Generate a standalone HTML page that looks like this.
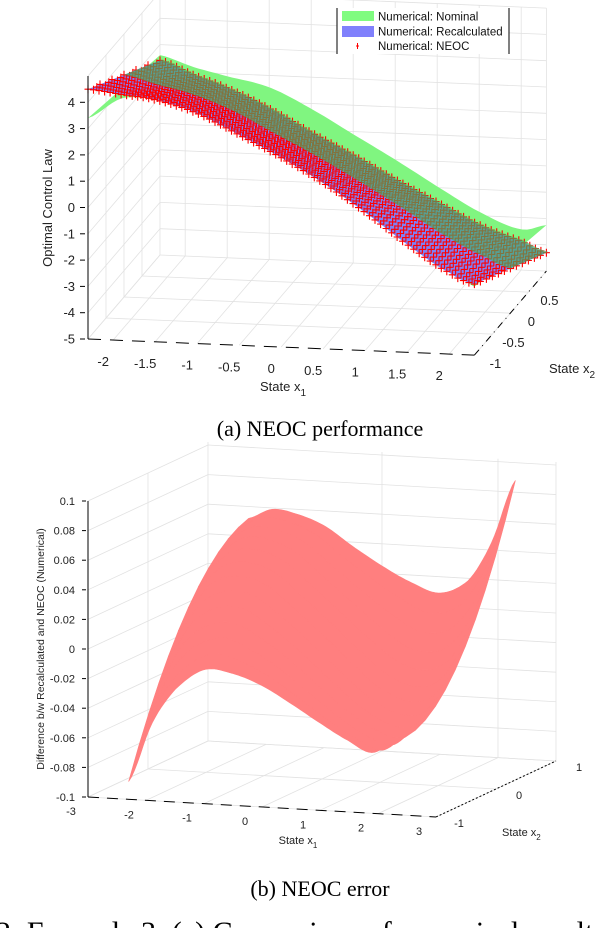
<!DOCTYPE html>
<html><head><meta charset="utf-8">
<style>
html,body{margin:0;padding:0;background:#fff;}
svg{display:block;font-family:"Liberation Sans",sans-serif;}
.cap{font-family:"Liberation Serif",serif;}
</style></head>
<body>
<svg id="fig" width="610" height="928" viewBox="0 0 610 928" xmlns="http://www.w3.org/2000/svg">
  <g id="chartA"></g>
  <g id="chartB"></g>
  <text class="cap" x="320" y="436" font-size="22" text-anchor="middle">(a) NEOC performance</text>
  <text class="cap" x="320" y="896" font-size="22" text-anchor="middle">(b) NEOC error</text>
  <text class="cap" x="-4" y="942" font-size="30">2: Example 3: (a) Comparison of numerical results</text>
</svg>
<script>
// ---------- Chart A data ----------
const aX1 = [-2.3,-1.9,-1.5,-1.0,-0.5,0,0.5,1.0,1.5,2.0,2.3];
const recalcFront = [4.5,4.35,4.2,3.75,3.0,2.2,1.3,0.25,-0.9,-1.9,-2.3];
const recalcBack  = [2.4,1.9,1.45,0.75,-0.1,-0.9,-1.75,-2.55,-3.35,-3.9,-4.3];
const nominalFront = [3.4,4.2,4.2,3.9,3.2,2.4,1.6,0.6,-0.4,-1.6,-2.4];
const nominalBack  = [2.6,2.2,1.9,1.55,0.8,-0.1,-1.0,-1.95,-2.85,-3.45,-3.25];
const neocFront = [4.5,4.35,4.2,3.75,3.0,2.2,1.3,0.25,-0.9,-1.9,-2.3];
const neocBack  = [2.4,1.9,1.45,0.75,-0.1,-0.9,-1.75,-2.55,-3.35,-3.9,-4.3];
const aZTicks = [4,3,2,1,0,-1,-2,-3,-4,-5];
const aX1Ticks = [-2,-1.5,-1,-0.5,0,0.5,1,1.5,2];
const aX2Ticks = [-1,-0.5,0,0.5];
// ---------- Chart B data ----------
const bX1 = [-2.3,-1.9,-1.5,-1.0,-0.5,0,0.5,1.0,1.5,1.9,2.3];
const diffFront = [-0.088,-0.048,-0.024,-0.0095,-0.011,-0.018,-0.029,-0.041,-0.052,-0.059,-0.05];
const diffMid   = [0.011,0.028,0.034,0.030,0.015,-0.002,-0.020,-0.036,-0.044,-0.040,-0.021];
const diffBack  = [0.052,0.059,0.057,0.05,0.037,0.025,0.015,0.009,0.019,0.046,0.088];
const bZTicks = [0.1,0.08,0.06,0.04,0.02,0,-0.02,-0.04,-0.06,-0.08,-0.1];
const bZLabels = ["0.1","0.08","0.06","0.04","0.02","0","-0.02","-0.04","-0.06","-0.08","-0.1"];
const bX1Ticks = [-3,-2,-1,0,1,2,3];
const bX2Ticks = [-1,0,1];

const NS = "http://www.w3.org/2000/svg";
function mk(parent, tag, attrs){ const e=document.createElementNS(NS,tag); for(const k in attrs) e.setAttribute(k,attrs[k]); parent.appendChild(e); return e; }
function interp(xs, ys, x){
  let i=0; while(i<xs.length-2 && x>xs[i+1]) i++;
  const t=(x-xs[i])/(xs[i+1]-xs[i]);
  const p0=ys[Math.max(i-1,0)], p1=ys[i], p2=ys[i+1], p3=ys[Math.min(i+2,ys.length-1)];
  const t2=t*t, t3=t2*t;
  return 0.5*((2*p1)+(-p0+p2)*t+(2*p0-5*p1+4*p2-p3)*t2+(-p0+3*p1-3*p2+p3)*t3);
}
function pts(arr){ return arr.map(p=>p[0].toFixed(1)+","+p[1].toFixed(1)).join(" "); }

// ---------- Chart A ----------
const A = document.getElementById('chartA');
const aX1Min=-2.3, aX1Max=2.3, aX2Min=-1, aX2Max=1, aZMin=-5, aZMax=5;
function PA(x1,x2,z){ return [88+(x1-aX1Min)*84+(x2-aX2Min)*36, 339+(x1-aX1Min)*3.5-(x2-aX2Min)*42-(z-aZMin)*26.3]; }
function line(g,p,q,st,name){ const l=mk(g,'line',{x1:p[0],y1:p[1],x2:q[0],y2:q[1],stroke:st.c||'#e2e2e2','stroke-width':st.w||0.8}); if(st.d) l.setAttribute('stroke-dasharray',st.d);   return l; }
(function(){
  const g=mk(A,'g',{});  
  aX1Ticks.concat([aX1Min,aX1Max]).forEach(x=>{ line(g,PA(x,aX2Max,aZMin),PA(x,aX2Max,aZMax),{},'grid-back-vertical'); line(g,PA(x,aX2Min,aZMin),PA(x,aX2Max,aZMin),{},'grid-floor-x2'); });
  aZTicks.concat([5]).forEach(z=>{ line(g,PA(aX1Min,aX2Max,z),PA(aX1Max,aX2Max,z),{},'grid-back-horizontal'); line(g,PA(aX1Min,aX2Min,z),PA(aX1Min,aX2Max,z),{},'grid-left-horizontal'); });
  [-0.5,0,0.5].forEach(x2=>{ line(g,PA(aX1Min,x2,aZMin),PA(aX1Min,x2,aZMax),{},'grid-left-vertical'); line(g,PA(aX1Min,x2,aZMin),PA(aX1Max,x2,aZMin),{},'grid-floor-x1'); });
})();
function bandA(fr,bk,x2a,x2b){
  const N=80, out=[];
  const zf=(x1,x2)=>{const f=interp(aX1,fr,x1), b=interp(aX1,bk,x1); return f+(b-f)*(x2+1)/2;};
  for(let i=0;i<=N;i++){ const x1=aX1Min+(aX1Max-aX1Min)*i/N; out.push(PA(x1,x2a,zf(x1,x2a))); }
  for(let i=N;i>=0;i--){ const x1=aX1Min+(aX1Max-aX1Min)*i/N; out.push(PA(x1,x2b,zf(x1,x2b))); }
  return out;
}
const nomPoly=mk(A,'polygon',{points:pts(bandA(nominalFront,nominalBack,-1,1)),fill:'#80f580'});
 
const recPoly=mk(A,'polygon',{points:pts(bandA(recalcFront,recalcBack,-1,1)),fill:'#7f80f5'});
 
(function(){
  let d=''; const NX=70, NY=13;
  for(let j=0;j<NY;j++){ const x2=-1+2*j/(NY-1);
    for(let i=0;i<=NX;i++){ const x1=Math.min(aX1Max,aX1Min+(aX1Max-aX1Min)*(i+(j%2)*0.5)/NX);
      const f=interp(aX1,neocFront,x1), b=interp(aX1,neocBack,x1); const z=f+(b-f)*(x2+1)/2;
      const p=PA(x1,x2,z); d+=`M${(p[0]-3.5).toFixed(1)},${p[1].toFixed(1)}h7M${p[0].toFixed(1)},${(p[1]-4).toFixed(1)}v8`; } }
  const m=mk(A,'path',{d:d,stroke:'#ff0000','stroke-width':1.1,fill:'none'});
   
})();
const nomOver=mk(A,'polygon',{points:pts(bandA(recalcFront,recalcBack,0,1.05)),fill:'#40b060','fill-opacity':0.65});
 
(function(){
  const g=mk(A,'g',{});  
  line(g,PA(aX1Min,aX2Min,aZMin),PA(aX1Min,aX2Min,aZMax),{c:'#000',w:1},'z-axis-line');
  line(g,PA(aX1Min,aX2Min,aZMin),PA(aX1Max,aX2Min,aZMin),{c:'#000',w:1,d:'13,9'},'x1-axis-line');
  line(g,PA(aX1Max,aX2Min,aZMin),PA(aX1Max,aX2Max,aZMin),{c:'#000',w:1,d:'7,5,1,5'},'x2-axis-line');
  aZTicks.forEach(z=>{ const p=PA(aX1Min,aX2Min,z); line(g,[p[0]-8,p[1]],[p[0]-3,p[1]],{c:'#000',w:1},'z-tick');
    const t=mk(g,'text',{x:p[0]-13,y:p[1]+4.5,'font-size':13,'text-anchor':'end',fill:'#222'}); t.textContent=String(z);
      });
  aX1Ticks.forEach(x=>{ const p=PA(x,aX2Min,aZMin);
    const t=mk(g,'text',{x:p[0]-10,y:p[1]+26,'font-size':13,'text-anchor':'middle',fill:'#222'}); t.textContent=String(x);
      });
  aX2Ticks.forEach(x=>{ const p=PA(aX1Max,x,aZMin);
    const t=mk(g,'text',{x:p[0]+21,y:p[1]+13,'font-size':13,'text-anchor':'middle',fill:'#222'}); t.textContent=String(x);
      });
  let t=mk(g,'text',{x:283,y:391,'font-size':13,fill:'#222','text-anchor':'middle'}); t.innerHTML='State x<tspan font-size="10" dy="5">1</tspan>';
   
  t=mk(g,'text',{x:549,y:373,'font-size':13,fill:'#222'}); t.innerHTML='State x<tspan font-size="10" dy="5">2</tspan>';
   
  t=mk(g,'text',{x:0,y:0,'font-size':13,fill:'#222','text-anchor':'middle',transform:'translate(52,208) rotate(-90)'}); t.textContent='Optimal Control Law';
   
})();
(function(){
  const g=mk(A,'g',{});  
  mk(g,'rect',{x:337,y:8,width:172,height:46,fill:'#fff'});
  line(g,[337,8],[337,54],{c:'#000',w:1},'legend-border-left');
  line(g,[509,8],[509,54],{c:'#000',w:1},'legend-border-right');
  let r=mk(g,'rect',{x:342,y:11,width:32,height:10,fill:'#80fc80'});  
  r=mk(g,'rect',{x:342,y:26,width:32,height:11,fill:'#8080fc'});  
  const m=mk(g,'path',{d:'M356,46h3M357.5,43v6',stroke:'#f00','stroke-width':1,fill:'none'});  
  [['Numerical: Nominal',20.5],['Numerical: Recalculated',35.5],['Numerical: NEOC',50]].forEach(e=>{ const t=mk(g,'text',{x:378,y:e[1],'font-size':11.5,fill:'#111'}); t.textContent=e[0];
      });
})();

// ---------- Chart B ----------
const B = document.getElementById('chartB');
const bX1Min=-3,bX1Max=3,bX2Min=-1,bX2Max=1,bZMin=-0.1,bZMax=0.1;
function PB(x1,x2,z){ return [88+(x1-bX1Min)*58+(x2-bX2Min)*60, 797+(x1-bX1Min)*3.33-(x2-bX2Min)*28-(z-bZMin)*1480]; }
(function(){
  const g=mk(B,'g',{});  
  [-3,0,2,3].forEach(x=>line(g,PB(x,bX2Max,bZMin),PB(x,bX2Max,bZMax+0.002),{},'grid-back-vertical'));
  bX1Ticks.forEach(x=>line(g,PB(x,bX2Min,bZMin),PB(x,bX2Max,bZMin),{},'grid-floor-x2'));
  bZTicks.forEach(z=>{ line(g,PB(bX1Min,bX2Max,z),PB(bX1Max,bX2Max,z),{},'grid-back-horizontal'); line(g,PB(bX1Min,bX2Min,z),PB(bX1Min,bX2Max,z),{},'grid-left-horizontal'); });
  [0].forEach(x2=>{ line(g,PB(bX1Min,x2,bZMin),PB(bX1Min,x2,bZMax),{},'grid-left-vertical'); });
  bX2Ticks.forEach(x2=>line(g,PB(bX1Min,x2,bZMin),PB(bX1Max,x2,bZMin),{},'grid-floor-x1'));
})();
function zB(x1,x2){
  const f=interp(bX1,diffFront,x1), m=interp(bX1,diffMid,x1), b=interp(bX1,diffBack,x1);
  return m + x2*(b-f)/2 + x2*x2*((f+b)/2 - m);
}
(function(){
  const g=mk(B,'g',{});  
  const N=90, M=12, x0=bX1[0], x9=bX1[bX1.length-1];
  for(let j=0;j<M;j++){
    const a=-1+2*j/M, c=-1+2*(j+1)/M, out=[];
    for(let i=0;i<=N;i++){ const x1=x0+(x9-x0)*i/N; out.push(PB(x1,a,zB(x1,a))); }
    for(let i=N;i>=0;i--){ const x1=x0+(x9-x0)*i/N; out.push(PB(x1,c,zB(x1,c))); }
    const p=mk(g,'polygon',{points:pts(out),fill:'#ff7f7f',stroke:'#ff7f7f','stroke-width':0.6});
     
  }
})();
(function(){
  const g=mk(B,'g',{});  
  line(g,PB(bX1Min,bX2Min,bZMin),PB(bX1Min,bX2Min,bZMax),{c:'#000',w:1},'z-axis-line');
  line(g,PB(bX1Min,bX2Min,bZMin),PB(bX1Max,bX2Min,bZMin),{c:'#000',w:1,d:'11,8'},'x1-axis-line');
  line(g,PB(bX1Max,bX2Min,bZMin),PB(bX1Max,bX2Max,bZMin),{c:'#000',w:1,d:'2,2'},'x2-axis-line');
  bZTicks.forEach((z,i)=>{ const p=PB(bX1Min,bX2Min,z); line(g,[p[0]-6,p[1]],[p[0]-2,p[1]],{c:'#000',w:1},'z-tick');
    const t=mk(g,'text',{x:p[0]-13,y:p[1]+4,'font-size':11,'text-anchor':'end',fill:'#222'}); t.textContent=bZLabels[i];
      });
  bX1Ticks.forEach(x=>{ const p=PB(x,bX2Min,bZMin);
    const t=mk(g,'text',{x:p[0]-17,y:p[1]+18,'font-size':11,'text-anchor':'middle',fill:'#222'}); t.textContent=String(x);
      });
  bX2Ticks.forEach(x=>{ const p=PB(bX1Max,x,bZMin);
    const t=mk(g,'text',{x:p[0]+23,y:p[1]+10,'font-size':11,'text-anchor':'middle',fill:'#222'}); t.textContent=String(x);
      });
  let t=mk(g,'text',{x:298,y:844,'font-size':11,fill:'#222','text-anchor':'middle'}); t.innerHTML='State x<tspan font-size="8" dy="4">1</tspan>';
   
  t=mk(g,'text',{x:502,y:836,'font-size':11,fill:'#222'}); t.innerHTML='State x<tspan font-size="8" dy="4">2</tspan>';
   
  t=mk(g,'text',{x:0,y:0,'font-size':10.5,fill:'#222','text-anchor':'middle',transform:'translate(44,649) rotate(-90)'}); t.textContent='Difference b/w Recalculated and NEOC (Numerical)';
   
})();
</script>
</body></html>
